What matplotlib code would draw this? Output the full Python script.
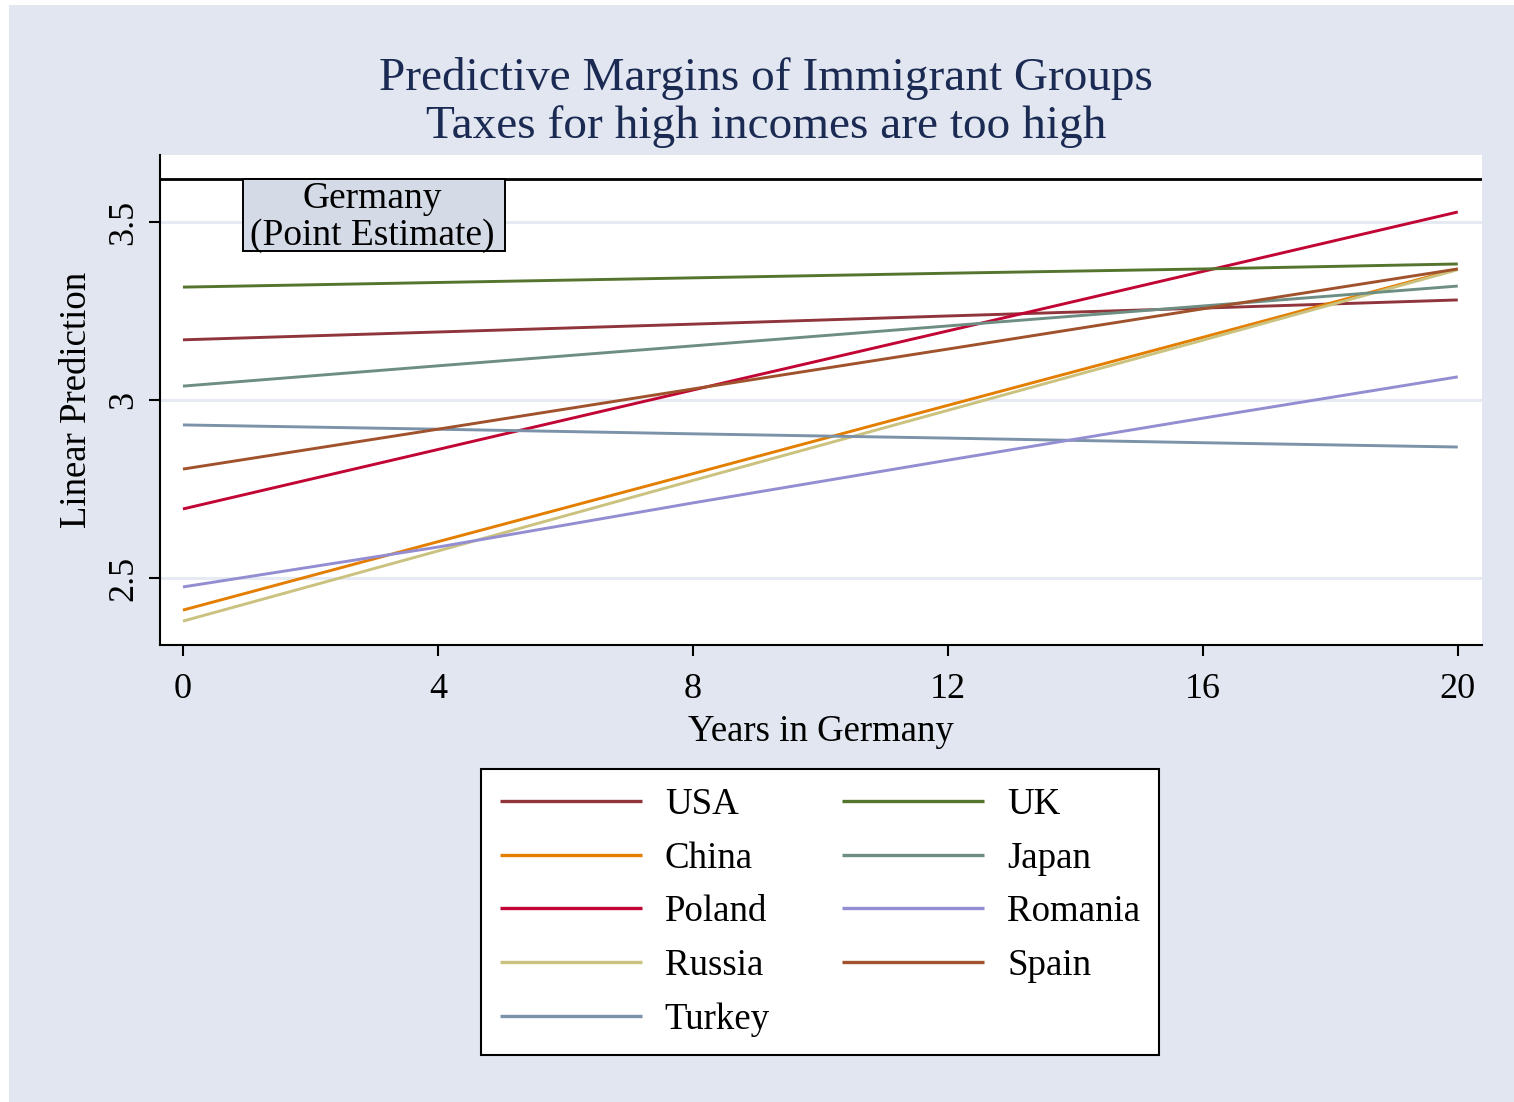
import matplotlib
matplotlib.use("Agg")
import matplotlib.pyplot as plt
from matplotlib.patches import Rectangle

# ---- data ----
years = [0, 4, 8, 12, 16, 20]
usa     = [3.169, 3.191, 3.213, 3.236, 3.258, 3.281]
china   = [2.410, 2.602, 2.793, 2.985, 3.176, 3.368]
poland  = [2.694, 2.861, 3.028, 3.194, 3.361, 3.528]
russia  = [2.379, 2.576, 2.774, 2.971, 3.168, 3.366]
turkey  = [2.930, 2.918, 2.905, 2.893, 2.880, 2.868]
uk      = [3.317, 3.330, 3.343, 3.356, 3.368, 3.382]
japan   = [3.039, 3.096, 3.152, 3.208, 3.264, 3.320]
romania = [2.475, 2.587, 2.711, 2.831, 2.949, 3.065]
spain   = [2.806, 2.918, 3.031, 3.143, 3.256, 3.368]
germany = 3.621

series_names = ["USA", "China", "Poland", "Russia", "Turkey", "UK", "Japan", "Romania", "Spain"]
series_vals = [usa, china, poland, russia, turkey, uk, japan, romania, spain]
colors = ["#90353B", "#E37E00", "#C10534", "#CAC27E", "#7B92A8",
          "#55752F", "#6E8E84", "#938DD2", "#A0522D"]

xticks = [0, 4, 8, 12, 16, 20]
yticks = [2.5, 3, 3.5]
ytick_labels = ["2.5", "3", "3.5"]

plt.rcParams['font.family'] = ['Liberation Serif', 'DejaVu Serif']

W, H = 1514, 1102
fig = plt.figure(figsize=(W / 100, H / 100), dpi=100, facecolor="white")
bg = "#E1E6F0"
fig.patches.append(Rectangle((9 / W, 0), 1 - 9 / W, 1 - 5 / H, transform=fig.transFigure,
                             facecolor=bg, edgecolor="none", zorder=-10))

ax = fig.add_axes([160 / W, 1 - 645 / H, (1482 - 160) / W, (645 - 155) / H])
ax.set_zorder(1)
ax.set_facecolor("white")
ax.set_xlim(-0.36, 20.38)
ax.set_ylim(2.312, 3.688)

for yv in yticks:
    ax.axhline(yv, color="#E6EAF2", lw=2.2, zorder=1)

ax.axhline(germany, color="black", lw=2.0, zorder=2)

handles = []
for name, vals, c in zip(series_names, series_vals, colors):
    h, = ax.plot(years, vals, color=c, lw=2.1, label=name, zorder=3,
                 solid_capstyle="butt")
    handles.append(h)

# label box for the Germany reference line
box_x0, box_x1, box_y0 = 0.94, 5.05, 3.4185
ax.add_patch(Rectangle((box_x0, box_y0), box_x1 - box_x0, germany - box_y0,
                       facecolor="#D4DBE7", edgecolor="black", linewidth=1.4,
                       zorder=4))
ax.text((box_x0 + box_x1) / 2 - 0.03, (box_y0 + germany) / 2 - 0.006,
        "Germany\n(Point Estimate)", ha="center", va="center",
        fontsize=27, linespacing=1.08, zorder=5)

for s in ["top", "right"]:
    ax.spines[s].set_visible(False)
for s in ["left", "bottom"]:
    ax.spines[s].set_linewidth(1.5)

ax.set_xticks(xticks)
ax.set_xticklabels([str(t) for t in xticks], fontsize=26)
ax.set_yticks(yticks)
ax.set_yticklabels(ytick_labels, fontsize=26, rotation=90, va="center")
ax.tick_params(axis="x", length=8, width=1.5, pad=12)
ax.tick_params(axis="y", length=8, width=1.5, pad=6)

ax.set_xlabel("Years in Germany", fontsize=26.5, labelpad=6)
ax.set_ylabel("Linear Prediction", fontsize=26.5, labelpad=10)

fig.text(766 / W, 1 - 78 / H, "Predictive Margins of Immigrant Groups",
         ha="center", va="center", fontsize=34, color="#1B2A52")
fig.text(766 / W, 1 - 127 / H, "Taxes for high incomes are too high",
         ha="center", va="center", fontsize=34, color="#1B2A52")

leg = fig.legend(handles=handles, labels=series_names, ncol=2,
                 loc="center", bbox_to_anchor=(820 / W, 1 - 912 / H),
                 fontsize=26.6, handlelength=3.85, handletextpad=0.62,
                 columnspacing=1.95, labelspacing=0.52, borderpad=0.5,
                 frameon=True, fancybox=False, edgecolor="black",
                 facecolor="white", framealpha=1)
leg.get_frame().set_linewidth(1.5)
for lh in leg.get_lines():
    lh.set_linewidth(2.4)

fig.savefig("out.png", dpi=100, facecolor=fig.get_facecolor())
